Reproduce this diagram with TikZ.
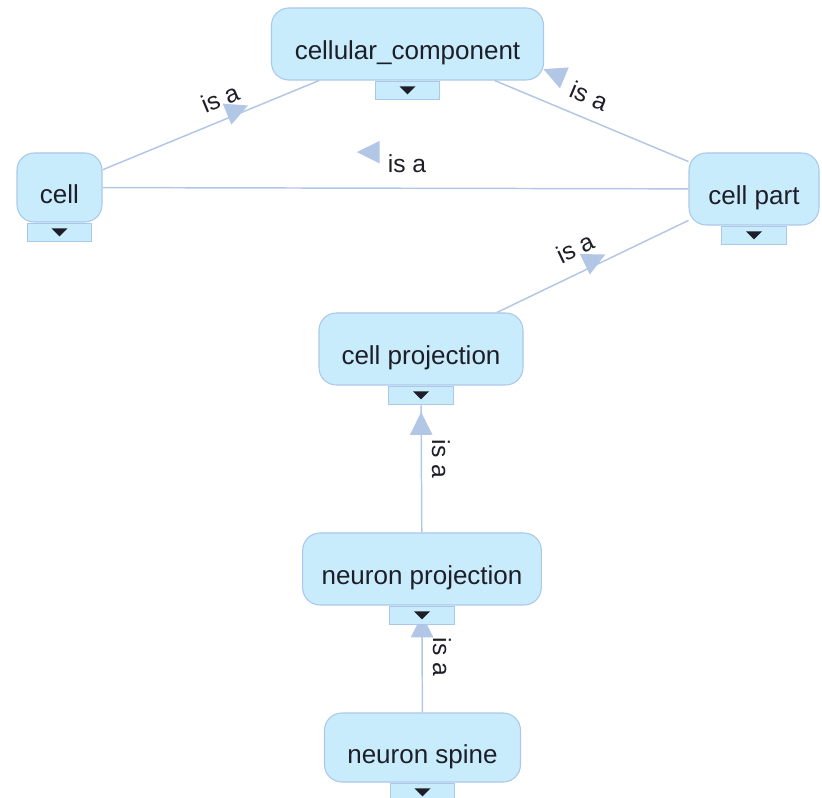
\documentclass[tikz,border=0pt]{standalone}
\usepackage{fontspec}
\setmainfont{Liberation Sans}
\usetikzlibrary{positioning,decorations.markings}
\definecolor{termfill}{RGB}{200,236,252}
\definecolor{termline}{RGB}{170,200,234}
\definecolor{edgeline}{RGB}{178,198,230}
\definecolor{termtext}{RGB}{30,30,40}
\pgfdeclarelayer{edges}
\pgfsetlayers{edges,main}

\begin{document}
\begin{tikzpicture}[x=0.75pt, y=-0.75pt,
    term/.style={draw=termline, line width=0.8pt, fill=termfill, rounded corners=13pt,
      text=termtext, font=\fontsize{19.5}{23}\selectfont, minimum height=54pt,
      text height=24pt, text depth=0pt, inner sep=0pt},
    tab/.style={draw=termline, line width=0.8pt, fill=termfill, minimum width=48.5pt,
      minimum height=14pt, inner sep=0pt, below=0pt of #1,
      path picture={\fill[termtext] ([shift={(-6pt,3pt)}]path picture bounding box.center)
        -- ++(12pt,0pt) -- ++(-6pt,-6pt) -- cycle;}},
    lbl/.style={text=termtext, font=\fontsize{18.5}{22}\selectfont, inner sep=0pt},
    isa/.style 2 args={draw=edgeline, line width=1.1pt, postaction={decorate},
      decoration={markings, mark=at position #1 with
        {\fill[edgeline, shift={#2}] (0pt,0pt) -- ++(-17pt,8.5pt) -- ++(0pt,-17pt) -- cycle;}}}]
  \useasboundingbox (0,0) rectangle (822,798);

  % terms
  \node[term, minimum width=204pt] (cc) at (407.5,44) {cellular\_component};
  \node[term, minimum width=63.75pt, minimum height=51.75pt] (cell) at (59.5,187.5) {cell};
  \node[term, minimum width=97.5pt] (cellpart) at (754,189) {cell part};
  \node[term, minimum width=153pt] (cp) at (421,349) {cell projection};
  \node[term, minimum width=179pt] (np) at (422,569) {neuron projection};
  \node[term, minimum width=147pt, minimum height=51.75pt] (ns) at (422.5,747.5) {neuron spine};

  \node[tab=cc] (cc-tab) {};
  \node[tab=cell] (cell-tab) {};
  \node[tab=cellpart] (cellpart-tab) {};
  \node[tab=cp] (cp-tab) {};
  \node[tab=np] (np-tab) {};
  \node[tab=ns] (ns-tab) {};

  % relations
  \begin{pgfonlayer}{edges}
    \draw[isa={0.679}{(0pt,3pt)}] (cell) -- (cc);
    \draw[isa={0.807}{(0pt,-22pt)}] (cellpart) -- (cc);
    \draw[isa={0.566}{(0pt,-27pt)}] (cellpart) -- (cell);
    \draw[isa={0.578}{(0pt,4pt)}] (cp) -- (cellpart);
    \draw[isa={0.946}{(0pt,0pt)}] (np) -- (cp-tab);
    \draw[isa={0.999}{(8pt,0pt)}] (ns) -- (np-tab);
  \end{pgfonlayer}

  \node[lbl, rotate=22.4] (l-cell) at (220,98) {is a};
  \node[lbl, rotate=-22.7] (l-cellpart) at (589,96) {is a};
  \node[lbl] (l-across) at (407,164) {is a};
  \node[lbl, rotate=25.6] (l-cp) at (575,248) {is a};
  \node[lbl, rotate=-90] (l-np) at (441,459) {is a};
  \node[lbl, rotate=-90] (l-ns) at (442,657) {is a};
\end{tikzpicture}
\end{document}
